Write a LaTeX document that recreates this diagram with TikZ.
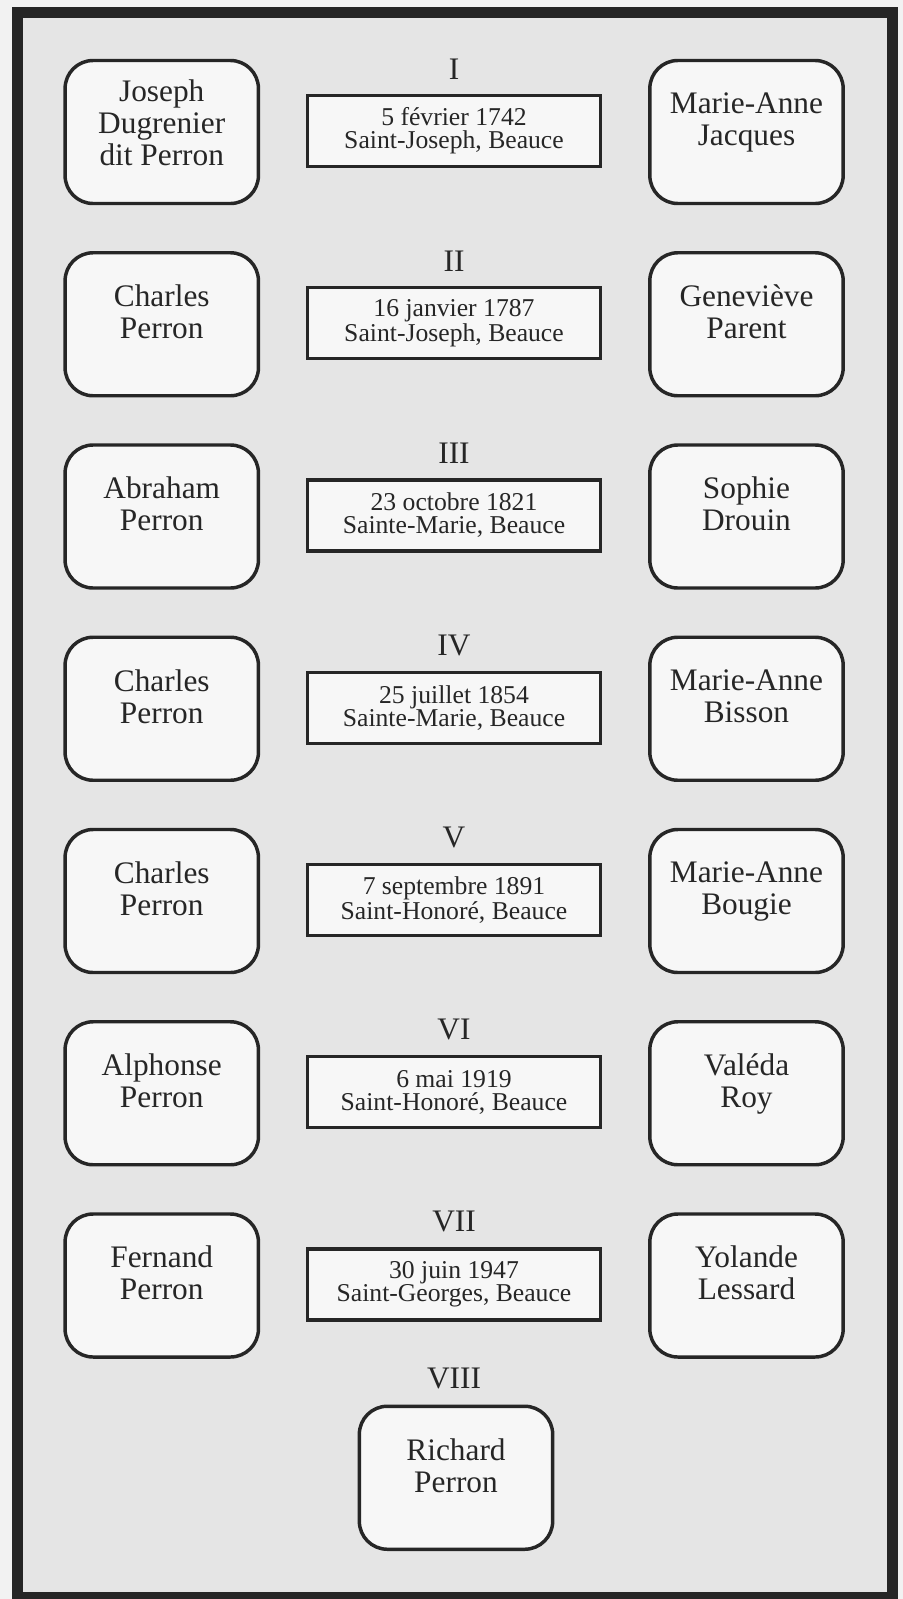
\documentclass[tikz,border=0pt]{standalone}
\usepackage{fontspec}
\setmainfont{Liberation Serif}
\definecolor{ink}{HTML}{262626}
\definecolor{paper}{HTML}{E5E5E5}
\definecolor{margin}{HTML}{F2F2F2}
\definecolor{cardfill}{HTML}{F7F7F7}
\tikzset{
  person/.style={draw=ink, fill=cardfill, line width=2.6pt, rounded corners=21pt,
    minimum width=145pt, minimum height=107.25pt, inner sep=0pt, align=center,
    text depth=18.75pt, text=ink, font=\fontsize{23.5}{24}\selectfont},
  wedding/.style={draw=ink, fill=cardfill, line width=2.5pt,
    minimum width=219.75pt, minimum height=53.25pt, inner sep=0pt, align=center,
    text=ink, font=\fontsize{19.25}{17.25}\selectfont},
  gen/.style={inner sep=0pt, text=ink, font=\fontsize{23.5}{24}\selectfont}
}
\begin{document}
\begin{tikzpicture}[x=0.75pt, y=-0.75pt]
  \useasboundingbox (0,0) rectangle (903,1599);
  \clip (0,0) rectangle (903,1599);
  \fill[margin] (0,0) rectangle (903,1599);
  \fill[paper] (17.5,12) rectangle (892.5,1597);
  \draw[ink, line width=8.25pt] (17.5,12) rectangle (892.5,1597);

  \node[gen] (genI) at (454,69) {I};
  \node[person, text depth=14.25pt] (husbandI) at (161.75,132) {Joseph\\Dugrenier\\dit Perron};
  \node[wedding] (weddingI) at (454,131) {5 février 1742\\Saint-Joseph, Beauce};
  \node[person] (wifeI) at (746.5,132) {Marie-Anne\\Jacques};

  \node[gen] (genII) at (454,261) {II};
  \node[person] (husbandII) at (161.75,324.25) {Charles\\Perron};
  \node[wedding] (weddingII) at (454,323.25) {16 janvier 1787\\Saint-Joseph, Beauce};
  \node[person] (wifeII) at (746.5,324.25) {Geneviève\\Parent};

  \node[gen] (genIII) at (454,453) {III};
  \node[person] (husbandIII) at (161.75,516.5) {Abraham\\Perron};
  \node[wedding] (weddingIII) at (454,515.5) {23 octobre 1821\\Sainte-Marie, Beauce};
  \node[person] (wifeIII) at (746.5,516.5) {Sophie\\Drouin};

  \node[gen] (genIV) at (454,645) {IV};
  \node[person] (husbandIV) at (161.75,708.75) {Charles\\Perron};
  \node[wedding] (weddingIV) at (454,707.75) {25 juillet 1854\\Sainte-Marie, Beauce};
  \node[person] (wifeIV) at (746.5,708.75) {Marie-Anne\\Bisson};

  \node[gen] (genV) at (454,837) {V};
  \node[person] (husbandV) at (161.75,901) {Charles\\Perron};
  \node[wedding] (weddingV) at (454,900) {7 septembre 1891\\Saint-Honoré, Beauce};
  \node[person] (wifeV) at (746.5,901) {Marie-Anne\\Bougie};

  \node[gen] (genVI) at (454,1029) {VI};
  \node[person] (husbandVI) at (161.75,1093.25) {Alphonse\\Perron};
  \node[wedding] (weddingVI) at (454,1092.25) {6 mai 1919\\Saint-Honoré, Beauce};
  \node[person] (wifeVI) at (746.5,1093.25) {Valéda\\Roy};

  \node[gen] (genVII) at (454,1221.5) {VII};
  \node[person] (husbandVII) at (161.75,1285.5) {Fernand\\Perron};
  \node[wedding] (weddingVII) at (454,1284.5) {30 juin 1947\\Saint-Georges, Beauce};
  \node[person] (wifeVII) at (746.5,1285.5) {Yolande\\Lessard};

  \node[gen] (genVIII) at (454,1378) {VIII};
  \node[person] (childVIII) at (456,1477.75) {Richard\\Perron};
\end{tikzpicture}
\end{document}
